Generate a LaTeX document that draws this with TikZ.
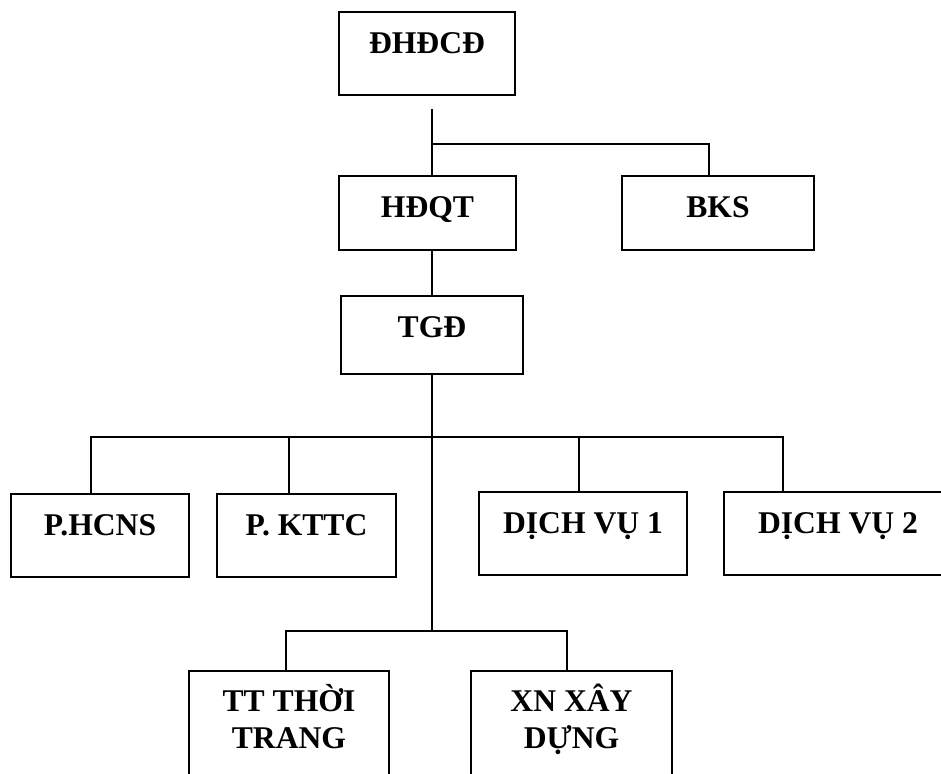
\documentclass[tikz,border=0pt]{standalone}
\usepackage{fontspec}
\setmainfont{Liberation Serif}
\usetikzlibrary{positioning}

\begin{document}
\begin{tikzpicture}[
    x=0.02cm, y=-0.02cm,
    box/.style={rectangle, draw, line width=1.1pt, anchor=north, align=center,
        inner ysep=9.8pt, text height=14pt, text depth=#1,
        font=\fontsize{18}{21}\selectfont\bfseries},
    box/.default=13.4pt,
    twoline/.style={box=20pt, text height=34.4pt},
    line/.style={line width=1.1pt}
]
\useasboundingbox (0,0) rectangle (941,774);

% top levels
\node[box, minimum width=3.52cm] (dhdcd) at (427,11) {ĐHĐCĐ};
\node[box=8.4pt, minimum width=3.54cm] (hdqt) at (427.5,175) {HĐQT};
\node[box=8.4pt, minimum width=3.84cm] (bks) at (718,175) {BKS};
\node[box=10.6pt, minimum width=3.64cm] (tgd) at (432,295) {TGĐ};

% departments
\node[box, minimum width=3.56cm] (hcns) at (100,493) {P.HCNS};
\node[box, minimum width=3.58cm] (kttc) at (306.5,493) {P. KTTC};
\node[box, minimum width=4.16cm] (dv1) at (583,491) {DỊCH VỤ 1};
\node[box, minimum width=4.56cm] (dv2) at (838,491) {DỊCH VỤ 2};
\node[twoline, minimum width=4.0cm] (tt) at (289,670) {TT THỜI\\TRANG};
\node[twoline, minimum width=4.02cm] (xn) at (571.5,670) {XN XÂY\\DỰNG};

\coordinate (root) at (432,109);
\coordinate (bus1) at (432,144);
\coordinate (bus2) at (432,437);
\coordinate (bus3) at (432,631);

\draw[line] (root) -- (root |- hdqt.north);
\draw[line] (bus1) -| ([xshift=-0.18cm]bks.north);
\draw[line] (hdqt.south -| root) -- (tgd.north);
\draw[line] (tgd.south) -- (bus3);

\draw[line] ([xshift=-0.18cm]hcns.north) |- (bus2) -| ([xshift=-1.1cm]dv2.north);
\draw[line] ([xshift=-0.35cm]kttc.north) -- ([xshift=-0.35cm]kttc.north |- bus2);
\draw[line] ([xshift=-0.08cm]dv1.north) -- ([xshift=-0.08cm]dv1.north |- bus2);
\draw[line] ([xshift=-0.06cm]tt.north) |- (bus3) -| ([xshift=-0.09cm]xn.north);
\end{tikzpicture}
\end{document}
